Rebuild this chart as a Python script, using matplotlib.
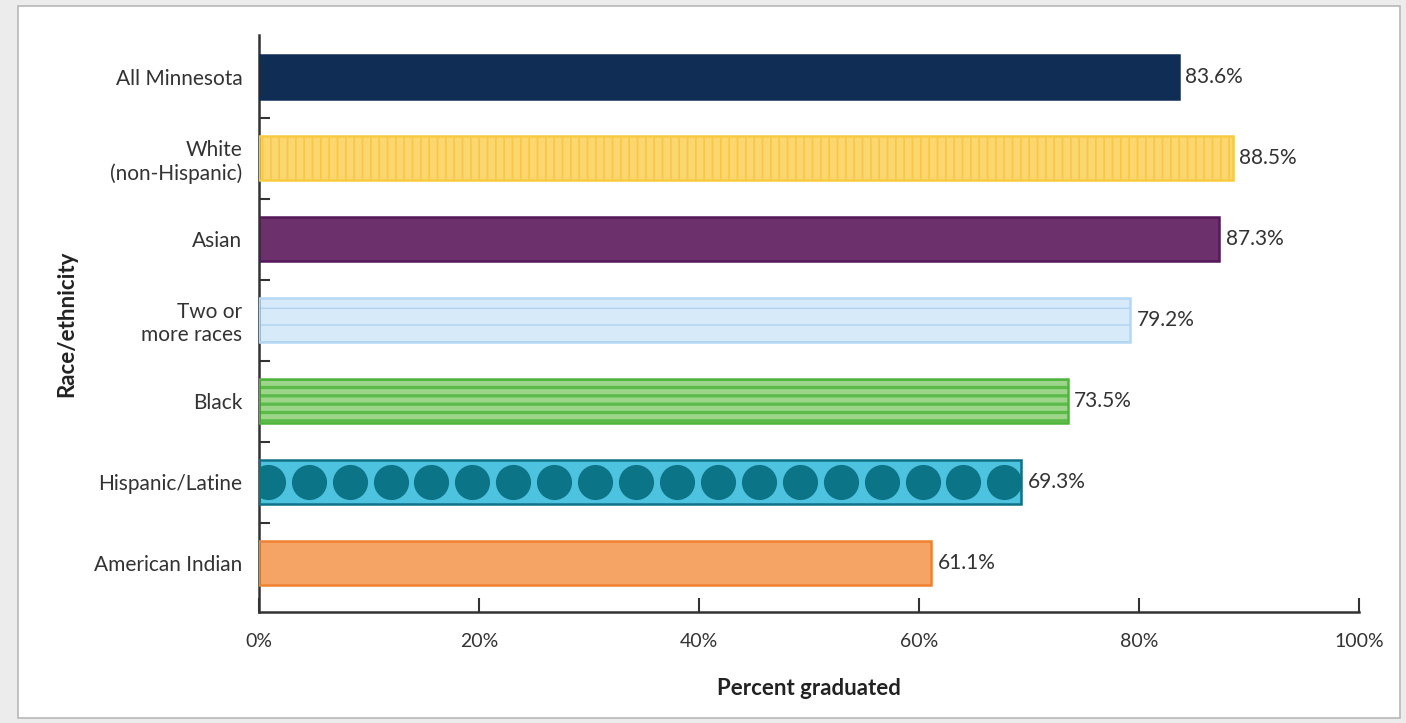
import numpy as np
import matplotlib as mpl
import matplotlib.pyplot as plt
from matplotlib.patches import Rectangle

plt.rcParams['font.family'] = ['Lato', 'DejaVu Sans']

# data
groups = ['All Minnesota', 'White\n(non-Hispanic)', 'Asian', 'Two or\nmore races',
          'Black', 'Hispanic/Latine', 'American Indian']
values = [83.6, 88.5, 87.3, 79.2, 73.5, 69.3, 61.1]
xticks = [0, 20, 40, 60, 80, 100]

# style per bar: face, edge, hatch color, hatch, hatch width
styles = [
    ('#0f2d55', '#0f2d55', None, None, 0),
    ('#fcd66e', '#f9c93f', '#f7c745', '||', 1.2),
    ('#6c316c', '#55185a', None, None, 0),
    ('#d6eafa', '#b4d7f3', '#aed2f0', '-', 1.0),
    ('#9dd68b', '#4fb43c', '#5dbb4a', '--', 2.4),
    ('#4ec3e0', '#0d7187', None, None, 0),
    ('#f6a466', '#f08131', None, None, 0),
]

fig = plt.figure(figsize=(14.06, 7.23), dpi=100)
fig.patch.set_facecolor('#ececec')
card = Rectangle((18/1406, 5/723), 1382/1406, 712/723, transform=fig.transFigure,
                 facecolor='white', edgecolor='#b8b8b8', lw=1.2, zorder=-10)
fig.patches.append(card)

ax = fig.add_axes([259/1406, 1 - 612/723, 1100/1406, (612 - 35)/723])
ax.set_facecolor('none')

ypos = np.arange(len(groups))
h = 0.54
for i, (v, (fc, ec, hc, hatch, hw)) in enumerate(zip(values, styles)):
    if hatch:
        with mpl.rc_context({'hatch.linewidth': hw}):
            b = ax.barh(i, v, height=h, color=fc, edgecolor=hc, hatch=hatch, lw=0, zorder=2)
        for p in b:
            if hasattr(p, 'set_hatch_linewidth'):
                p.set_hatch_linewidth(hw)
    else:
        ax.barh(i, v, height=h, color=fc, lw=0, zorder=2)
    ax.barh(i, v, height=h, fill=False, edgecolor=ec, lw=1.8, zorder=4)
    ax.text(v + 0.6, i, f'{v}%', va='center', ha='left', fontsize=15, color='#333333')

# dotted fill for Hispanic/Latine
hi = groups.index('Hispanic/Latine')
dots = np.arange(0.8, values[hi] - 1, 3.72)
ax.scatter(dots, np.full(len(dots), hi), s=640, color='#0b7487', zorder=3, lw=0)

ax.set_xlim(0, 100)
ax.set_ylim(6.6, -0.52)
ax.set_xticks(xticks)
ax.set_xticklabels([f'{t}%' for t in xticks], fontsize=14, color='#333333')
ax.set_yticks(ypos)
ax.set_yticklabels(groups, fontsize=15, color='#333333', ha='right')
ax.tick_params(axis='y', length=0, pad=12)
ax.tick_params(axis='x', direction='in', length=10, width=1.5, pad=15, color='#333333')
ax.set_yticks(ypos[:-1] + 0.5, minor=True)
ax.tick_params(axis='y', which='minor', direction='in', length=8, width=1.5, color='#333333')

for s in ['top', 'right']:
    ax.spines[s].set_visible(False)
for s in ['left', 'bottom']:
    ax.spines[s].set_linewidth(1.8)
    ax.spines[s].set_color('#333333')

ax.set_xlabel('Percent graduated', fontsize=16, fontweight='bold', color='#222222', labelpad=20)
ax.set_ylabel('Race/ethnicity', fontsize=16, fontweight='bold', color='#222222', labelpad=12)

plt.savefig('out.png', dpi=100)
